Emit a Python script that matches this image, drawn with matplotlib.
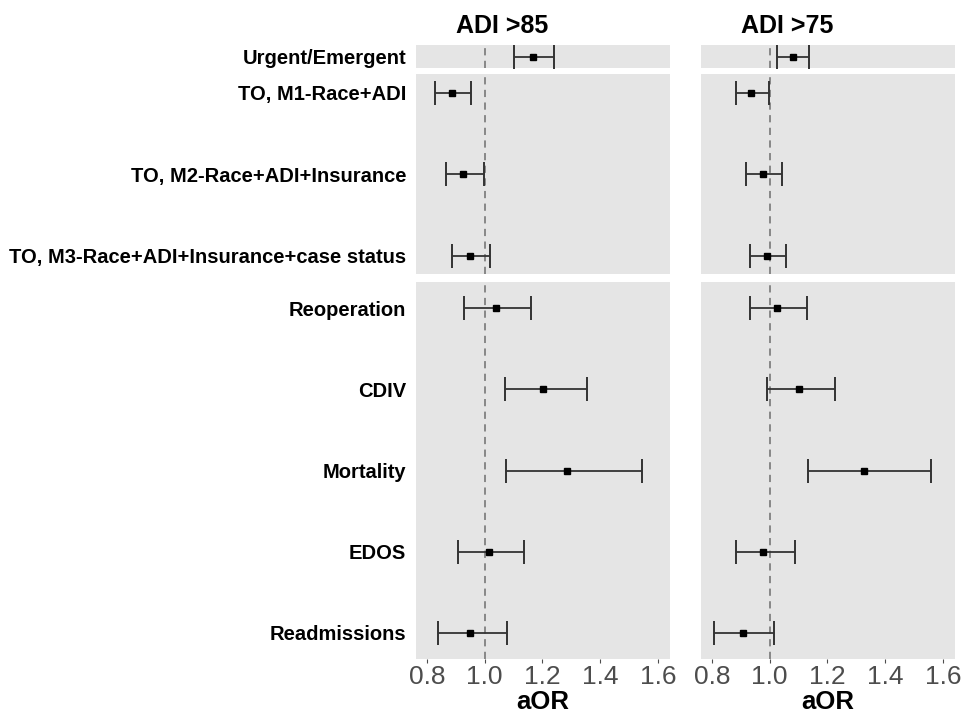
import matplotlib
matplotlib.use("Agg")
import matplotlib.pyplot as plt

plt.rcParams['font.family'] = ['Liberation Sans', 'DejaVu Sans']

# data
groups = ["ADI >85", "ADI >75"]
panel_rows = [
    ["Urgent/Emergent"],
    ["TO, M1-Race+ADI", "TO, M2-Race+ADI+Insurance",
     "TO, M3-Race+ADI+Insurance+case status"],
    ["Reoperation", "CDIV", "Mortality", "EDOS", "Readmissions"],
]
# aOR, lower CI, upper CI per group, in row order
aor_85 = [1.168, 0.888, 0.926, 0.950, 1.038, 1.203, 1.286, 1.014, 0.948]
lo_85 = [1.103, 0.828, 0.866, 0.886, 0.928, 1.070, 1.073, 0.907, 0.839]
hi_85 = [1.240, 0.952, 0.998, 1.018, 1.159, 1.355, 1.544, 1.137, 1.076]
aor_75 = [1.081, 0.936, 0.978, 0.992, 1.024, 1.102, 1.328, 0.978, 0.906]
lo_75 = [1.024, 0.882, 0.917, 0.931, 0.931, 0.991, 1.131, 0.882, 0.807]
hi_75 = [1.137, 0.999, 1.041, 1.056, 1.130, 1.226, 1.560, 1.087, 1.015]
xticks = [0.8, 1.0, 1.2, 1.4, 1.6]

W, H = 962, 713
fig = plt.figure(figsize=(W / 100, H / 100), dpi=100)

# panel layout in pixels
col_x = [(416, 670), (701, 955)]
row_y = [(45, 68), (74, 274.5), (281.7, 659.3)]
row_lim = [(0.5, -0.5), (2.233, -0.233), (4.324, -0.324)]

series = [(aor_85, lo_85, hi_85), (aor_75, lo_75, hi_75)]

for c, (x0, x1) in enumerate(col_x):
    aor, lo, hi = series[c]
    start = 0
    for r, (y0, y1) in enumerate(row_y):
        labels = panel_rows[r]
        n = len(labels)
        ax = fig.add_axes([x0 / W, 1 - y1 / H, (x1 - x0) / W, (y1 - y0) / H])
        ax.set_facecolor("#E5E5E5")
        for s in ax.spines.values():
            s.set_visible(False)
        ys = list(range(n))
        m = aor[start:start + n]
        l = lo[start:start + n]
        h = hi[start:start + n]
        ax.axvline(1.0, color="#808080", ls=(0, (4, 3)), lw=1.3, zorder=1)
        ax.errorbar(m, ys, xerr=[[a - b for a, b in zip(m, l)],
                                 [b - a for a, b in zip(m, h)]],
                    fmt="none", ecolor="#333333", elinewidth=1.3,
                    capsize=8.5, capthick=1.4, zorder=2)
        ax.plot(m, ys, "s", color="black", ms=3.8, zorder=3)
        ax.set_xlim(0.762, 1.642)
        ax.set_ylim(*row_lim[r])
        ax.set_yticks(ys)
        if c == 0:
            ax.set_yticklabels(labels, fontsize=14.5, fontweight="bold",
                               color="black")
        else:
            ax.set_yticklabels([])
        ax.tick_params(axis="y", length=0, pad=7)
        ax.set_xticks(xticks)
        if r == 2:
            ax.set_xticklabels(["%.1f" % v for v in xticks], fontsize=19,
                               color="#4D4D4D")
            ax.tick_params(axis="x", length=3, color="#4D4D4D", pad=1)
            ax.set_xlabel("aOR", fontsize=18.5, fontweight="bold",
                          color="black", labelpad=1)
        else:
            ax.tick_params(axis="x", length=0, labelbottom=False)
        start += n

# facet titles
fig.text(502 / W, 1 - 26 / H, groups[0], fontsize=18, fontweight="bold",
         ha="center", va="center")
fig.text(787 / W, 1 - 26 / H, groups[1], fontsize=18, fontweight="bold",
         ha="center", va="center")

fig.savefig("out.png", dpi=100)
